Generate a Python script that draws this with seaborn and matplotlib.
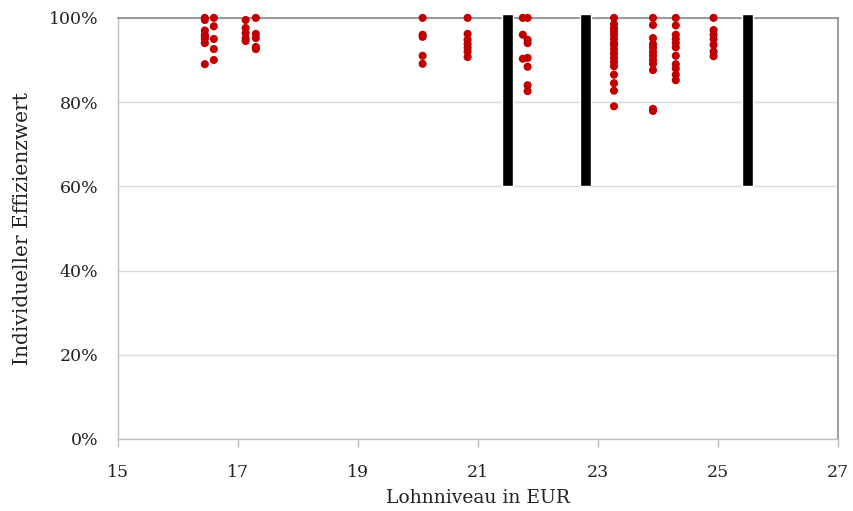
import matplotlib
matplotlib.use("Agg")
import matplotlib.pyplot as plt
import seaborn as sns
import pandas as pd
from matplotlib.ticker import PercentFormatter, FixedLocator, MultipleLocator

# Wage level (EUR) of each group and the individual efficiency scores observed there
wage_levels = [16.45, 16.6, 17.13, 17.3, 20.08, 20.83, 21.75, 21.83, 23.27, 23.92, 24.3, 24.93]
efficiency_scores = [
    [1.00, 0.995, 0.97, 0.96, 0.955, 0.95, 0.94, 0.89],
    [1.00, 0.98, 0.95, 0.926, 0.90],
    [0.995, 0.976, 0.964, 0.952, 0.945],
    [1.00, 0.962, 0.952, 0.931, 0.926],
    [1.00, 0.96, 0.955, 0.91, 0.891],
    [1.00, 0.962, 0.948, 0.938, 0.929, 0.92, 0.907],
    [1.00, 0.96, 0.903],
    [1.00, 0.948, 0.94, 0.905, 0.884, 0.84, 0.826],
    [1.00, 0.985, 0.975, 0.968, 0.96, 0.95, 0.94, 0.935, 0.925, 0.915,
     0.905, 0.895, 0.885, 0.865, 0.845, 0.827, 0.79],
    [1.00, 0.983, 0.952, 0.938, 0.929, 0.919, 0.91, 0.90, 0.891, 0.876, 0.784, 0.779],
    [1.00, 0.982, 0.96, 0.95, 0.94, 0.93, 0.91, 0.89, 0.88, 0.865, 0.852],
    [1.00, 0.971, 0.96, 0.95, 0.936, 0.92, 0.909],
]

# Vertical markers: wage positions and their lower / upper score bounds
marker_wages = [21.5, 22.8, 25.5]
marker_low = [0.60, 0.60, 0.60]
marker_high = [1.01, 1.01, 1.01]

# Axis ticks
x_ticks = [15, 17, 19, 21, 23, 25, 27]

rows = [(w, s) for w, scores in zip(wage_levels, efficiency_scores) for s in scores]
df = pd.DataFrame(rows, columns=["Lohnniveau", "Effizienz"])

sns.set_theme(style="white")
plt.rcParams["font.family"] = ["DejaVu Serif"]

fig = plt.figure(figsize=(8.54, 5.11), dpi=100)
ax = fig.add_axes([0.138, 0.141, 0.843, 0.824])

ax.yaxis.grid(True, color="#d9d9d9", linewidth=1.0)
ax.set_axisbelow(True)

ax.bar(marker_wages,
       [h - l for h, l in zip(marker_high, marker_low)],
       bottom=marker_low, width=0.18, color="black", zorder=3, clip_on=False)

sns.scatterplot(data=df, x="Lohnniveau", y="Effizienz", ax=ax,
                color="#c00000", s=34, edgecolor="none", zorder=4, clip_on=False)

ax.set_xlim(15, 27)
ax.set_ylim(0, 1.0)
ax.xaxis.set_major_locator(FixedLocator(x_ticks))
ax.yaxis.set_major_locator(MultipleLocator(0.2))
ax.yaxis.set_major_formatter(PercentFormatter(1.0, decimals=0))

for side in ["left", "bottom"]:
    ax.spines[side].set_color("#bfbfbf")
    ax.spines[side].set_linewidth(1.0)
for side in ["top", "right"]:
    ax.spines[side].set_color("#8c8c8c")
    ax.spines[side].set_linewidth(1.2)

ax.tick_params(axis="x", direction="out", length=6, width=1, color="#bfbfbf",
               labelsize=12.5, pad=12, bottom=True, labelcolor="#222222")
ax.tick_params(axis="y", length=0, labelsize=12.5, pad=14, labelcolor="#222222")

ax.set_xlabel("Lohnniveau in EUR", fontsize=13.5, labelpad=6, color="#222222")
ax.set_ylabel("Individueller Effizienzwert", fontsize=14.5, labelpad=12, color="#222222")

fig.savefig("out.png", dpi=100)
